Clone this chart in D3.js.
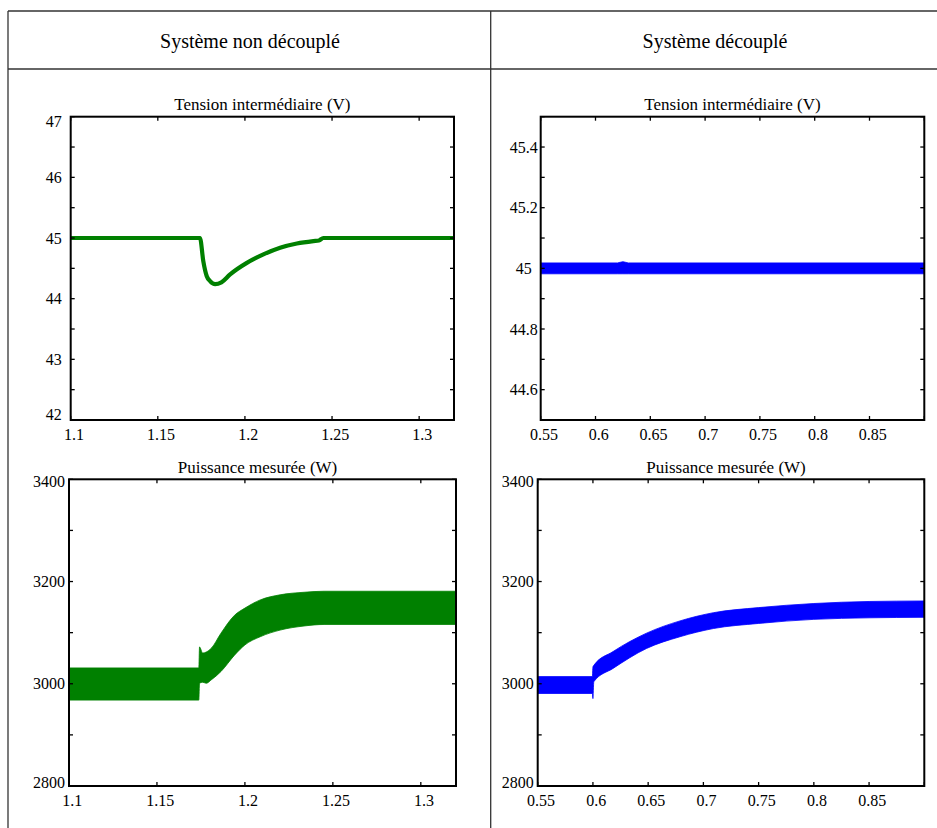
<!DOCTYPE html>
<html>
<head>
<meta charset="utf-8">
<script src="https://cdn.jsdelivr.net/npm/d3@7"></script>
<style>
  html, body { margin: 0; padding: 0; background: #fff; }
  svg { display: block; }
  text { font-family: "Liberation Serif", "Times New Roman", serif; fill: #000; }
</style>
</head>
<body>
<svg id="chart" width="937" height="828"></svg>
<script>
// ---------------- DATA ----------------
const columnTitles = ["Système non découplé", "Système découplé"];
const panelTitles = ["Tension intermédiaire (V)", "Tension intermédiaire (V)", "Puissance mesurée (W)", "Puissance mesurée (W)"];

// Panel A: tension, système non découplé (green line)
const tA = [1.1, 1.1742, 1.1761, 1.1781, 1.18, 1.1829, 1.1865, 1.1915, 1.2011, 1.2106, 1.2202, 1.2298, 1.2393, 1.2425, 1.245, 1.32];
const vA = [45, 45, 44.62, 44.37, 44.29, 44.24, 44.27, 44.40, 44.59, 44.73, 44.84, 44.91, 44.95, 44.96, 45.0, 45.0];

// Panel B: tension, système découplé (blue ripple band)
const tB = [0.55, 0.62, 0.625, 0.63, 0.9];
const loB = [44.982, 44.982, 44.982, 44.982, 44.982];
const hiB = [45.018, 45.018, 45.022, 45.018, 45.018];

// Panel C: puissance, système non découplé (green ripple band)
const tC  = [1.1, 1.1738, 1.1742, 1.176, 1.178, 1.181, 1.1864, 1.1941, 1.2, 1.2087, 1.22, 1.2336, 1.245, 1.32];
const loC = [2968, 2968, 3001, 3003, 3001, 3008, 3024, 3056, 3076, 3092, 3105, 3113, 3116, 3116];
const hiC = [3031, 3031, 3072, 3060, 3062, 3070, 3099, 3134, 3148, 3164, 3174, 3179, 3181, 3181];

// Panel D: puissance, système découplé (blue ripple band)
const tD  = [0.55, 0.5995, 0.6, 0.6008, 0.6182, 0.6485, 0.6788, 0.709, 0.75, 0.8, 0.85, 0.9];
const loD = [2981, 2981, 2971, 3004, 3030, 3069, 3092, 3108, 3118, 3126, 3129, 3130];
const hiD = [3014, 3014, 3033, 3036, 3063, 3099, 3123, 3139, 3149, 3157, 3161, 3162];

// Axis ticks
const xTicksA = [1.1, 1.15, 1.2, 1.25, 1.3];
const xTicksB = [0.55, 0.6, 0.65, 0.7, 0.75, 0.8, 0.85, 0.9];
const yTicksA = [42, 42.5, 43, 43.5, 44, 44.5, 45, 45.5, 46, 46.5, 47];
const yLabelsA = [42, 43, 44, 45, 46, 47];
const yTicksB = [44.5, 44.6, 44.7, 44.8, 44.9, 45, 45.1, 45.2, 45.3, 45.4, 45.5];
const yLabelsB = [44.6, 44.8, 45, 45.2, 45.4];
const yTicksP = [2800, 2900, 3000, 3100, 3200, 3300, 3400];
const yLabelsP = [2800, 3000, 3200, 3400];
const xLabelsB = [0.55, 0.6, 0.65, 0.7, 0.75, 0.8, 0.85];

// ---------------- LAYOUT ----------------
const svg = d3.select("#chart");
const GREEN = "#008000", BLUE = "#0000ff";

// table lines
const grid = svg.append("g").attr("stroke", "#333").attr("stroke-width", 1.3);
grid.append("line").attr("x1", 8).attr("x2", 937).attr("y1", 11).attr("y2", 11);
grid.append("line").attr("x1", 8).attr("x2", 937).attr("y1", 69).attr("y2", 69);
grid.append("line").attr("x1", 8).attr("x2", 8).attr("y1", 11).attr("y2", 828);
grid.append("line").attr("x1", 490.7).attr("x2", 490.7).attr("y1", 11).attr("y2", 828);

svg.append("text").attr("x", 250).attr("y", 48).attr("text-anchor", "middle")
  .style("font-size", "20px").text(columnTitles[0]);
svg.append("text").attr("x", 715).attr("y", 48).attr("text-anchor", "middle")
  .style("font-size", "20px").text(columnTitles[1]);

const fmt = v => String(+v.toFixed(4));

function panel(cfg) {
  const x = d3.scaleLinear().domain(cfg.xDomain).range([cfg.left, cfg.right]);
  const y = d3.scaleLinear().domain(cfg.yDomain).range([cfg.bottom, cfg.top]);
  const g = svg.append("g");
  const id = "clip" + cfg.id;
  svg.append("clipPath").attr("id", id).append("rect")
    .attr("x", cfg.left).attr("y", cfg.top)
    .attr("width", cfg.right - cfg.left).attr("height", cfg.bottom - cfg.top);

  const data = g.append("g").attr("clip-path", `url(#${id})`);
  if (cfg.line) {
    const pts = cfg.t.map((t, i) => [t, cfg.v[i]]);
    data.append("path")
      .attr("d", d3.line().x(d => x(d[0])).y(d => y(d[1])).curve(d3.curveMonotoneX)(pts))
      .attr("fill", "none").attr("stroke", cfg.color).attr("stroke-width", 4.2)
      .attr("stroke-linejoin", "round");
  } else {
    const pts = cfg.t.map((t, i) => ({ t, lo: cfg.lo[i], hi: cfg.hi[i] }));
    data.append("path")
      .attr("d", d3.area().x(d => x(d.t)).y0(d => y(d.lo)).y1(d => y(d.hi)).curve(d3.curveMonotoneX)(pts))
      .attr("fill", cfg.color).attr("stroke", cfg.color).attr("stroke-width", 0.8);
  }

  // ticks inward on all sides
  const tl = 4;
  const ticks = g.append("g").attr("stroke", "#000").attr("stroke-width", 1.3);
  cfg.xTicks.forEach(v => {
    const px = x(v);
    ticks.append("line").attr("x1", px).attr("x2", px).attr("y1", cfg.bottom).attr("y2", cfg.bottom - tl);
    ticks.append("line").attr("x1", px).attr("x2", px).attr("y1", cfg.top).attr("y2", cfg.top + tl);
  });
  cfg.yTicks.forEach(v => {
    const py = y(v);
    ticks.append("line").attr("x1", cfg.left).attr("x2", cfg.left + tl).attr("y1", py).attr("y2", py);
    ticks.append("line").attr("x1", cfg.right).attr("x2", cfg.right - tl).attr("y1", py).attr("y2", py);
  });

  // frame
  g.append("rect").attr("x", cfg.left).attr("y", cfg.top)
    .attr("width", cfg.right - cfg.left).attr("height", cfg.bottom - cfg.top)
    .attr("fill", "none").attr("stroke", "#000").attr("stroke-width", 2);

  // labels
  cfg.xLabels.forEach(v => {
    g.append("text").attr("x", x(v) + 3.2).attr("y", cfg.bottom + 20)
      .attr("text-anchor", "middle").style("font-size", "16px").text(fmt(v));
  });
  cfg.yLabels.forEach(v => {
    let py = y(v);
    py = Math.max(cfg.top + cfg.clampTop, Math.min(cfg.bottom - cfg.clampBot, py));
    g.append("text").attr("x", cfg.left - cfg.labelOff).attr("y", py + 5.5)
      .attr("text-anchor", "middle").style("font-size", "16px").text(fmt(v));
  });
  g.append("text").attr("x", (cfg.left + cfg.right) / 2 - cfg.titleShift).attr("y", cfg.titleY)
    .attr("text-anchor", "middle").style("font-size", "17px").text(cfg.title);
}

panel({ id: "A", left: 70.7, right: 454, top: 116.7, bottom: 420,
  xDomain: [1.1, 1.32], yDomain: [42, 47], line: true, t: tA, v: vA, color: GREEN,
  xTicks: xTicksA, xLabels: xTicksA, yTicks: yTicksA, yLabels: yLabelsA,
  labelOff: 17, clampTop: 5, clampBot: 6, title: panelTitles[0], titleY: 110, titleShift: 0 });

panel({ id: "B", left: 540.7, right: 924.3, top: 116.7, bottom: 420,
  xDomain: [0.55, 0.9], yDomain: [44.5, 45.5], t: tB, lo: loB, hi: hiB, color: BLUE,
  xTicks: xTicksB, xLabels: xLabelsB, yTicks: yTicksB, yLabels: yLabelsB,
  labelOff: 17, clampTop: 5, clampBot: 6, title: panelTitles[1], titleY: 110, titleShift: 0 });

panel({ id: "C", left: 69, right: 456, top: 479.3, bottom: 786,
  xDomain: [1.1, 1.32], yDomain: [2800, 3400], t: tC, lo: loC, hi: hiC, color: GREEN,
  xTicks: xTicksA, xLabels: xTicksA, yTicks: yTicksP, yLabels: yLabelsP,
  labelOff: 20, clampTop: 2, clampBot: 3.5, title: panelTitles[2], titleY: 473, titleShift: 5 });

panel({ id: "D", left: 537.7, right: 924.3, top: 479.3, bottom: 786,
  xDomain: [0.55, 0.9], yDomain: [2800, 3400], t: tD, lo: loD, hi: hiD, color: BLUE,
  xTicks: xTicksB, xLabels: xLabelsB, yTicks: yTicksP, yLabels: yLabelsP,
  labelOff: 20, clampTop: 2, clampBot: 3.5, title: panelTitles[3], titleY: 473, titleShift: 5 });
</script>
</body>
</html>
